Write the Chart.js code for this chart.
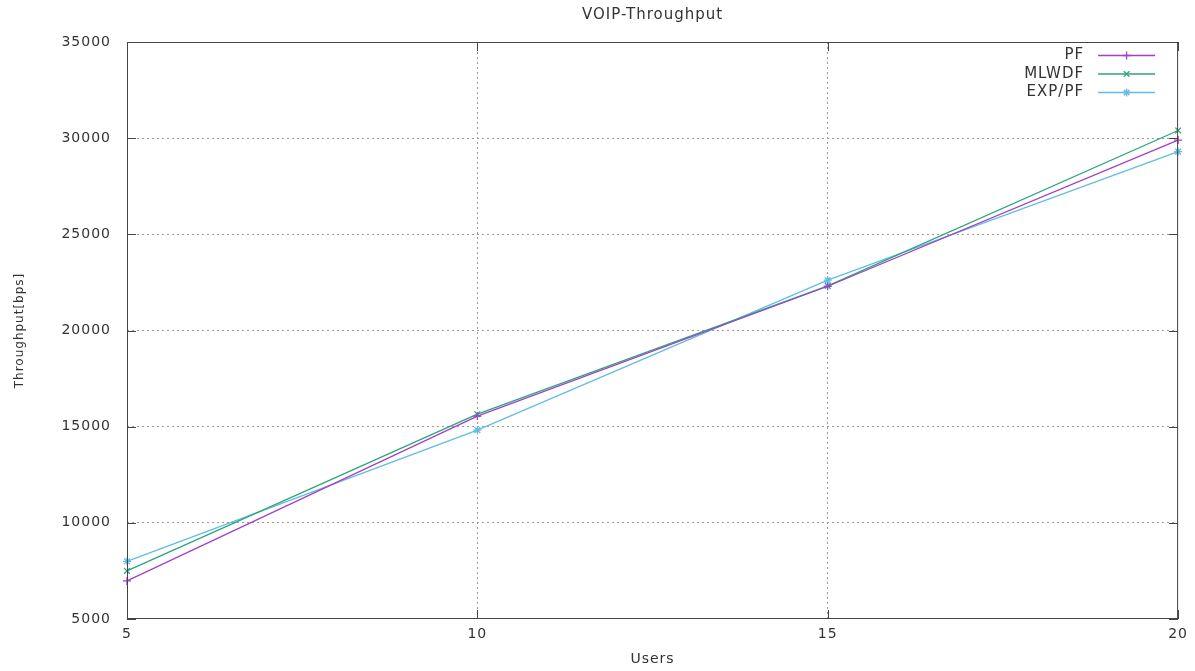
<!DOCTYPE html>
<html>
<head>
<meta charset="utf-8">
<script src="https://cdn.jsdelivr.net/npm/chart.js@4.4.1/dist/chart.umd.min.js"></script>
<style>
  html, body { margin: 0; padding: 0; background: #fff; }
  #wrap { width: 1195px; height: 671px; }
</style>
</head>
<body>
<div id="wrap"><canvas id="chart" width="1195" height="671"></canvas></div>
<script>
const users = [5, 10, 15, 20];
const pfValues = [6980, 15550, 22300, 29900];
const mlwdfValues = [7500, 15650, 22320, 30400];
const expPfValues = [8000, 14820, 22620, 29300];
const yTicks = [5000, 10000, 15000, 20000, 25000, 30000, 35000];
const xTicks = [5, 10, 15, 20];

const FONT = 'DejaVu Sans';
const TEXT = '#333';

function toPoints(values) {
    return users.map((u, i) => ({ x: u, y: values[i] }));
}

// the source picture is a bit wide, so spread the letters a little
const wideText = {
    id: 'wideText',
    beforeLayout(chart) { chart.ctx.letterSpacing = '1px'; },
    beforeDraw(chart) { chart.ctx.letterSpacing = '1px'; }
};

// gnuplot style: small ticks pointing inward on all four sides
const innerTicks = {
    id: 'innerTicks',
    afterDatasetsDraw(chart) {
        const { ctx, chartArea: a, scales } = chart;
        ctx.save();
        ctx.strokeStyle = '#444';
        ctx.lineWidth = 1;
        ctx.beginPath();
        yTicks.forEach(v => {
            const y = Math.round(scales.y.getPixelForValue(v)) + 0.5;
            ctx.moveTo(a.left, y); ctx.lineTo(a.left + 9, y);
            ctx.moveTo(a.right, y); ctx.lineTo(a.right - 9, y);
        });
        xTicks.forEach(v => {
            const x = Math.round(scales.x.getPixelForValue(v)) + 0.5;
            ctx.moveTo(x, a.bottom); ctx.lineTo(x, a.bottom - 9);
            ctx.moveTo(x, a.top); ctx.lineTo(x, a.top + 9);
        });
        ctx.stroke();
        ctx.strokeRect(a.left + 0.5, a.top + 0.5, a.right - a.left - 1, a.bottom - a.top - 1);
        ctx.restore();
    }
};

// legend in the top right corner: text right aligned, sample line after it
const keyLegend = {
    id: 'keyLegend',
    afterDatasetsDraw(chart) {
        const { ctx, chartArea: a } = chart;
        ctx.save();
        ctx.font = '15px ' + FONT;
        ctx.textAlign = 'right';
        ctx.textBaseline = 'middle';
        chart.data.datasets.forEach((ds, i) => {
            const y = a.top + 13.5 + i * 18.5;
            ctx.fillStyle = TEXT;
            ctx.fillText(ds.label, a.right - 94, y);
            const x0 = a.right - 80, x1 = a.right - 23;
            ctx.strokeStyle = ds.borderColor;
            ctx.lineWidth = 1.3;
            ctx.beginPath();
            ctx.moveTo(x0, y); ctx.lineTo(x1, y);
            ctx.stroke();
            Chart.helpers.drawPoint(ctx, {
                pointStyle: ds.pointStyle, radius: 4, borderWidth: 1.3, rotation: 0
            }, (x0 + x1) / 2, y);
        });
        ctx.restore();
    }
};

const gridColor = (lo, hi) => c =>
    (c.tick && (c.tick.value === lo || c.tick.value === hi)) ? 'rgba(0,0,0,0)' : '#9a9a9a';

new Chart(document.getElementById('chart'), {
    type: 'line',
    data: {
        datasets: [
            { label: 'PF', data: toPoints(pfValues), borderColor: '#a040c8', pointStyle: 'cross' },
            { label: 'MLWDF', data: toPoints(mlwdfValues), borderColor: '#2ca57a', pointStyle: 'crossRot' },
            { label: 'EXP/PF', data: toPoints(expPfValues), borderColor: '#62bde0', pointStyle: 'star' }
        ].map(ds => Object.assign(ds, {
            backgroundColor: ds.borderColor,
            borderWidth: 1.3,
            pointRadius: 4,
            pointBorderWidth: 1.3,
            tension: 0,
            fill: false,
            clip: false
        }))
    },
    options: {
        responsive: false,
        animation: false,
        layout: { padding: { left: 9, right: 15, top: 0, bottom: 0 } },
        plugins: {
            legend: { display: false },
            tooltip: { enabled: false },
            title: {
                display: true,
                fullSize: false,
                text: 'VOIP-Throughput',
                color: TEXT,
                font: { family: FONT, size: 15, weight: 'normal' },
                padding: { top: 6, bottom: 18 }
            }
        },
        scales: {
            x: {
                type: 'linear',
                min: 5,
                max: 20,
                afterFit: s => { s.height = 52; },
                afterBuildTicks: s => { s.ticks = xTicks.map(v => ({ value: v })); },
                ticks: { color: TEXT, font: { family: FONT, size: 14 }, padding: 7, callback: v => String(v) },
                grid: { color: gridColor(5, 20), drawTicks: false },
                border: { display: false, dash: [2, 3] },
                title: { display: true, text: 'Users', color: TEXT, font: { family: FONT, size: 14 }, padding: { top: 2, bottom: 3 } }
            },
            y: {
                min: 5000,
                max: 35000,
                afterFit: s => { s.width = 118; },
                afterBuildTicks: s => { s.ticks = yTicks.map(v => ({ value: v })); },
                ticks: { color: TEXT, font: { family: FONT, size: 14 }, padding: 16, callback: v => String(v) },
                grid: { color: gridColor(5000, 35000), drawTicks: false },
                border: { display: false, dash: [2, 3] },
                title: { display: true, text: 'Throughput[bps]', color: TEXT, font: { family: FONT, size: 12 }, padding: { top: 4, bottom: 4 } }
            }
        }
    },
    plugins: [wideText, innerTicks, keyLegend]
});
</script>
</body>
</html>
